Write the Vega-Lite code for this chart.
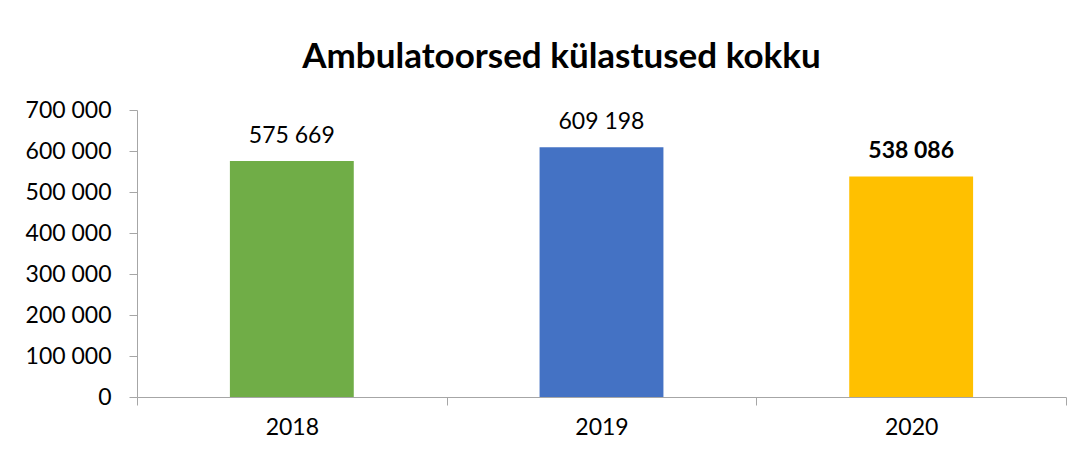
{
  "$schema": "https://vega.github.io/schema/vega-lite/v6.json",
  "autosize": {"type": "none"},
  "width": 929,
  "height": 287,
  "padding": {"left": 137, "top": 110, "right": 21, "bottom": 62},
  "background": "white",
  "config": {
    "locale": {"number": {"decimal": ",", "thousands": " ", "grouping": [3], "currency": ["", " €"]}},
    "view": {"stroke": null},
    "font": "Lato"
  },
  "title": {
    "text": "Ambulatoorsed külastused kokku",
    "fontSize": 35,
    "fontWeight": "bold",
    "font": "Lato",
    "color": "#000000",
    "anchor": "middle",
    "dx": -40,
    "offset": 24
  },
  "data": {
    "values": [
      {"year": "2018", "v": 575669},
      {"year": "2019", "v": 609198},
      {"year": "2020", "v": 538086}
    ]
  },
  "encoding": {
    "x": {
      "field": "year",
      "type": "nominal",
      "sort": null,
      "scale": {"paddingInner": 0, "paddingOuter": 0},
      "axis": {
        "title": null,
        "labelAngle": 0,
        "labelFontSize": 23,
        "labelColor": "#000000",
        "labelPadding": 11,
        "tickBand": "extent",
        "tickSize": 8,
        "tickColor": "#a6a6a6",
        "domainColor": "#a6a6a6"
      }
    },
    "y": {
      "field": "v",
      "type": "quantitative",
      "scale": {"domain": [0, 700000], "nice": false},
      "axis": {
        "title": null,
        "values": [0, 100000, 200000, 300000, 400000, 500000, 600000, 700000],
        "format": ",d",
        "grid": false,
        "labelFontSize": 23,
        "labelColor": "#000000",
        "labelPadding": 18,
        "tickSize": 8,
        "tickColor": "#a6a6a6",
        "domainColor": "#a6a6a6"
      }
    }
  },
  "layer": [
    {
      "mark": {"type": "bar", "width": {"band": 0.4}},
      "encoding": {
        "color": {
          "field": "year",
          "type": "nominal",
          "scale": {"domain": ["2018", "2019", "2020"], "range": ["#70AD47", "#4472C4", "#FFC000"]},
          "legend": null
        }
      }
    },
    {
      "transform": [{"filter": "datum.year != '2020'"}],
      "mark": {"type": "text", "baseline": "bottom", "dy": -13, "fontSize": 23, "color": "#000000"},
      "encoding": {"text": {"field": "v", "type": "quantitative", "format": ",d"}}
    },
    {
      "transform": [{"filter": "datum.year == '2020'"}],
      "mark": {"type": "text", "baseline": "bottom", "dy": -13, "fontSize": 23, "fontWeight": "bold", "color": "#000000"},
      "encoding": {"text": {"field": "v", "type": "quantitative", "format": ",d"}}
    }
  ]
}
